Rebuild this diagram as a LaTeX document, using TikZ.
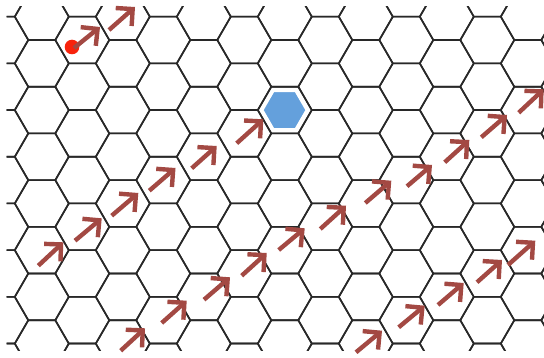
\documentclass[tikz,border=0pt]{standalone}
\usetikzlibrary{arrows.meta}
\definecolor{gridc}{RGB}{40,40,40}
\definecolor{arrowc}{RGB}{163,73,67}
\definecolor{hexblue}{RGB}{100,160,220}
\definecolor{dotred}{RGB}{248,35,12}
\tikzset{
  gridline/.style={draw=gridc,line width=1.6pt,line join=miter},
  vec/.style={draw=arrowc,line width=4.4pt,-{Straight Barb[length=12pt,width=24pt]}},
  bluehex/.style={fill=hexblue,draw=white,line width=2pt},
  reddot/.style={circle,fill=dotred,inner sep=0pt,minimum size=14.6pt}
}
\newcommand\hexcell[2]{%
  \draw[gridline] (#1,#2) ++(-27,0) -- ++(13.5,-23.35) -- ++(27,0) -- ++(13.5,23.35) -- ++(-13.5,23.35) -- ++(-27,0) -- cycle;}
\newcommand\vecarrow[4]{\draw[vec] (#1,#2) -- (#3,#4);}
\begin{document}
\begin{tikzpicture}[x=1pt,y=-1pt]
\useasboundingbox (0,0) rectangle (544,358);
\fill[white] (0,0) rectangle (544,358);
\begin{scope}
  \clip (6.7,6.7) rectangle (544,350.7);
  \foreach \i in {0,...,14}{
    \pgfmathsetmacro{\cx}{1.3+40.5*\i}
    \pgfmathsetmacro{\yo}{isodd(\i) ? 16.7 : 40}
    \foreach \k in {-1,...,8}{
      \pgfmathsetmacro{\cy}{\yo+46.7*\k}
      \hexcell{\cx}{\cy}
    }
  }
\end{scope}
% blue hexagon
\path[bluehex] (284.5,110.1) ++(-22,0) -- ++(11,-19.05) -- ++(22,0) -- ++(11,19.05) -- ++(-11,19.05) -- ++(-22,0) -- cycle;
% red dot
\node[reddot] (dot) at (72,47) {};
% arrows
\vecarrow{74}{48}{100}{27}
\vecarrow{109}{30}{135}{7}
% row 1
\vecarrow{38.3}{265.7}{63.3}{242.3}
\vecarrow{75}{240.7}{101.7}{218.3}
\vecarrow{111.7}{215.7}{138.3}{193}
\vecarrow{149.3}{190.7}{175.5}{168}
\vecarrow{191.7}{168.3}{216.7}{146}
\vecarrow{236.7}{143.3}{263.3}{119.3}
% row 2
\vecarrow{120.7}{350.7}{145}{328.3}
\vecarrow{161.7}{323}{186.7}{300.7}
\vecarrow{204}{299.7}{230}{277.3}
\vecarrow{241.7}{275.7}{266.7}{253}
\vecarrow{278.7}{250}{304.7}{228.3}
\vecarrow{320.3}{229}{346}{205.7}
\vecarrow{365.3}{203}{391.3}{180.7}
\vecarrow{407}{186.3}{432}{165}
\vecarrow{444.7}{162.3}{469.3}{140}
\vecarrow{481.3}{137.3}{507}{115}
\vecarrow{518.7}{112.7}{543.7}{89.3}
% row 3
\vecarrow{356}{352.3}{382}{330.7}
\vecarrow{398.7}{327.3}{424.7}{305.7}
\vecarrow{438}{305}{463.7}{283}
\vecarrow{477}{282.3}{502}{260}
\vecarrow{508}{265}{535.3}{240.7}
\end{tikzpicture}
\end{document}
